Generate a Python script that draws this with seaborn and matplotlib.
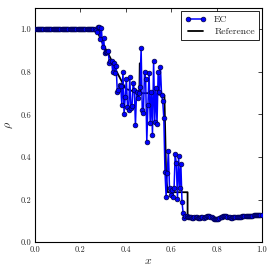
import numpy as np
import pandas as pd
import matplotlib
matplotlib.use('Agg')
import matplotlib.pyplot as plt
import seaborn as sns

# EC solution, 200 cells on [0, 1]
n_cells = 200
x_ec = np.linspace(0.0025, 0.9975, n_cells)
rho_ec = [
    1.000, 1.000, 1.000, 1.000, 1.000, 1.000, 1.000, 1.000, 1.000, 1.000,
    1.000, 1.000, 1.000, 1.000, 1.000, 1.000, 1.000, 1.000, 1.000, 1.000,
    1.000, 1.000, 1.000, 1.000, 1.000, 1.000, 1.000, 1.000, 1.000, 1.000,
    1.000, 1.000, 1.000, 1.000, 1.000, 1.000, 1.000, 1.000, 1.000, 1.000,
    1.000, 1.000, 1.000, 1.000, 1.000, 1.000, 1.000, 1.000, 1.000, 1.000,
    1.000, 1.000, 1.000, 0.995, 0.985, 1.010, 1.013, 0.955, 1.008, 0.918,
    0.960, 0.888, 0.895, 0.893, 0.898, 0.843, 0.850, 0.852, 0.800, 0.843,
    0.796, 0.829, 0.707, 0.715, 0.739, 0.735, 0.645, 0.798, 0.600, 0.684,
    0.767, 0.637, 0.621, 0.775, 0.629, 0.640, 0.750, 0.715, 0.551, 0.707,
    0.676, 0.700, 0.731, 0.911, 0.621, 0.606, 0.800, 0.765, 0.473, 0.645,
    0.797, 0.559, 0.707, 0.504, 0.853, 0.567, 0.723, 0.556, 0.800, 0.707,
    0.825, 0.692, 0.663, 0.582, 0.332, 0.214, 0.324, 0.429, 0.253, 0.222,
    0.246, 0.214, 0.253, 0.413, 0.371, 0.202, 0.405, 0.253, 0.366, 0.190,
    0.136, 0.113, 0.122, 0.124, 0.121, 0.119, 0.118, 0.117, 0.116, 0.116,
    0.117, 0.118, 0.117, 0.116, 0.115, 0.116, 0.118, 0.117, 0.116, 0.117,
    0.119, 0.122, 0.125, 0.124, 0.121, 0.117, 0.113, 0.110, 0.108, 0.108,
    0.109, 0.111, 0.114, 0.117, 0.120, 0.123, 0.125, 0.125, 0.123, 0.121,
    0.119, 0.117, 0.116, 0.116, 0.117, 0.118, 0.119, 0.118, 0.118, 0.119,
    0.120, 0.121, 0.122, 0.122, 0.123, 0.123, 0.124, 0.124, 0.124, 0.125,
    0.125, 0.125, 0.126, 0.126, 0.126, 0.126, 0.126, 0.126, 0.126, 0.126,
]

# reference solution (breakpoints)
x_ref = [0.0, 0.270, 0.300, 0.330, 0.360, 0.400, 0.460, 0.4615, 0.4645, 0.466,
         0.500, 0.570, 0.578, 0.585, 0.672, 0.6721, 0.700, 0.770, 0.800, 0.840,
         0.900, 1.0]
rho_ref = [1.000, 1.000, 0.930, 0.870, 0.800, 0.720, 0.700, 0.840, 0.840, 0.700,
           0.700, 0.690, 0.300, 0.235, 0.235, 0.120, 0.117, 0.124, 0.109, 0.124,
           0.120, 0.126]

df_ec = pd.DataFrame({'x': x_ec, 'rho': rho_ec})
df_ref = pd.DataFrame({'x': x_ref, 'rho': rho_ref})

sns.set_style('white')
plt.rcParams['font.family'] = ['cmr10', 'DejaVu Serif']
plt.rcParams['mathtext.fontset'] = 'cm'
plt.rcParams['axes.formatter.use_mathtext'] = True

fig = plt.figure(figsize=(2.75, 2.75), dpi=100)
ax = fig.add_axes([0.127, 0.119, 0.826, 0.852])

ref_line, = ax.plot(df_ref['x'], df_ref['rho'], color='black', lw=1.3, zorder=2)
sns.lineplot(data=df_ec, x='x', y='rho', ax=ax, color='blue', lw=1.1,
             marker='o', markersize=3.4, markeredgecolor='#000040',
             markeredgewidth=0.5, zorder=3)
ec_line = ax.get_lines()[-1]

ax.set_xlim(0, 1)
ax.set_ylim(0, 1.1)
ax.set_xticks([0.0, 0.2, 0.4, 0.6, 0.8, 1.0])
ax.set_yticks([0.0, 0.2, 0.4, 0.6, 0.8, 1.0])
ax.xaxis.set_major_formatter(matplotlib.ticker.FormatStrFormatter('%.1f'))
ax.yaxis.set_major_formatter(matplotlib.ticker.FormatStrFormatter('%.1f'))
ax.tick_params(direction='in', length=3, width=0.6, labelsize=6,
               top=True, right=True, pad=2.5)
for s in ax.spines.values():
    s.set_color('black')
    s.set_linewidth(0.8)
ax.set_xlabel(r'$x$', fontsize=8.5, labelpad=2)
ax.set_ylabel(r'$\rho$', fontsize=8.5, labelpad=4)

leg = ax.legend([ec_line, ref_line], ['EC', 'Reference'], loc='upper right',
                fontsize=7, numpoints=2, fancybox=False, framealpha=1,
                edgecolor='black', borderaxespad=0.35, handlelength=2.2,
                borderpad=0.4, labelspacing=0.35)
leg.get_frame().set_linewidth(0.6)

fig.savefig('out.png', dpi=100)
